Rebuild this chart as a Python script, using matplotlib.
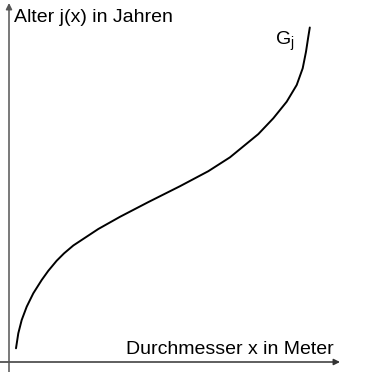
import matplotlib.pyplot as plt

plt.rcParams['font.family'] = ['Liberation Sans', 'DejaVu Sans']
plt.rcParams['mathtext.fontset'] = 'custom'
plt.rcParams['mathtext.rm'] = 'Liberation Sans'
plt.rcParams['mathtext.it'] = 'Liberation Sans'

# curve G_j (x = diameter, y = age, arbitrary units)
durchmesser = [7, 9.3, 12.7, 17.7, 24.3, 32.7, 39.3, 47.7, 55, 64.3, 89.3,
               111, 139.3, 171, 199.3, 221, 249.3, 264.3, 277.7,
               287.7, 293.7, 297, 299.3, 300.8]
alter = [13.7, 28.7, 42, 55.3, 68.7, 82, 91.2, 101.3, 108.6, 116.5, 133,
         145.2, 159.9, 175.8, 190.8, 204.7, 227.9, 243.7, 260.3,
         277, 293.7, 310.3, 325.3, 334.5]

x_label = 'Durchmesser x in Meter'
y_label = 'Alter j(x) in Jahren'
curve_label = r'G$_\mathrm{j}$'

fig = plt.figure(figsize=(3.68, 3.72), dpi=100)
ax = fig.add_axes([0, 0, 1, 1])
ax.set_xlim(-9, 359)
ax.set_ylim(-10, 362)
ax.axis('off')

# axes with arrows
ax.annotate('', xy=(331, 0), xytext=(-9, 0),
            arrowprops=dict(arrowstyle='-|>', color='#333333', lw=1.1,
                            mutation_scale=9, shrinkA=0, shrinkB=0))
ax.annotate('', xy=(0, 359), xytext=(0, -10),
            arrowprops=dict(arrowstyle='-|>', color='#555555', lw=1.1,
                            mutation_scale=9, shrinkA=0, shrinkB=0))

ax.plot(durchmesser, alter, color='black', lw=1.4,
        solid_capstyle='round', solid_joinstyle='round')

ax.text(5, 340, y_label, fontsize=14, ha='left', va='baseline')
ax.text(117, 8, x_label, fontsize=14, ha='left', va='baseline')
ax.text(266, 317, curve_label, fontsize=14, ha='left', va='baseline')

plt.savefig('out.png', dpi=100)
